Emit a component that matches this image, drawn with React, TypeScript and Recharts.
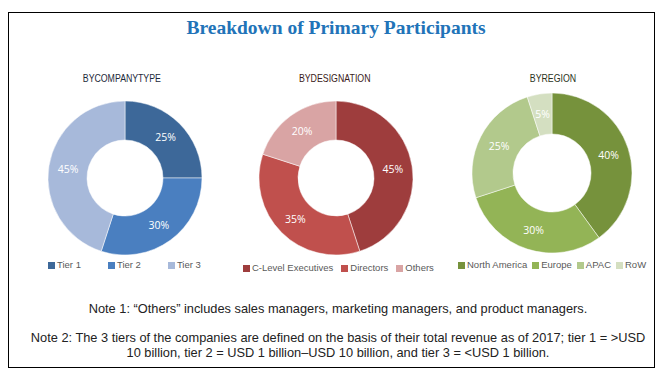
import React from 'react';
import { PieChart, Pie, Cell } from 'recharts';

const companyTypes = ['Tier 1', 'Tier 2', 'Tier 3'];
const companyShares = [25, 30, 45];
const companyColors = ['#3d6899', '#4a7fc0', '#a7b9da'];

const designations = ['C-Level Executives', 'Directors', 'Others'];
const designationShares = [45, 35, 20];
const designationColors = ['#9e3d3d', '#c0504d', '#d9a4a4'];

const regions = ['North America', 'Europe', 'APAC', 'RoW'];
const regionShares = [40, 30, 25, 5];
const regionColors = ['#76923c', '#93b456', '#b2c98c', '#d4dfc1'];

const subtitles = ['BY COMPANY TYPE', 'BY DESIGNATION', 'BY REGION'];
const subtitleColors = ['#1c2a3a', '#3b1a1a', '#2b331c'];

const titleText = 'Breakdown of Primary Participants';
const note1 = 'Note 1: \u201cOthers\u201d includes sales managers, marketing managers, and product managers.';
const note2a = 'Note 2: The 3 tiers of the companies are defined on the basis of their total revenue as of 2017; tier 1 = >USD';
const note2b = '10 billion, tier 2 = USD 1 billion\u2013USD 10 billion, and tier 3 = <USD 1 billion.';

const RAD = Math.PI / 180;

const build = (names: string[], values: number[]) =>
  names.map((name, i) => ({ name, value: values[i] }));

const renderLabel = (props: any) => {
  const { cx, cy, midAngle, innerRadius, outerRadius, value } = props;
  const r = (innerRadius + outerRadius) / 2;
  const x = cx + r * Math.cos(-midAngle * RAD);
  const y = cy + r * Math.sin(-midAngle * RAD);
  return (
    <text
      x={x}
      y={y}
      fill="#ffffff"
      textAnchor="middle"
      dominantBaseline="central"
      fontSize={10.5}
      fontFamily="'Open Sans', sans-serif"
    >
      {value}%
    </text>
  );
};

const LegendRow = ({ names, colors, left, top, gap }: { names: string[]; colors: string[]; left: number; top: number; gap: number }) => (
  <div
    style={{
      position: 'absolute',
      left,
      top,
      display: 'flex',
      alignItems: 'center',
      gap,
      fontFamily: "'Liberation Sans', Arial, sans-serif",
      fontSize: 9.5,
      color: '#595959',
      whiteSpace: 'nowrap',
      lineHeight: '12px',
    }}
  >
    {names.map((n, i) => (
      <div key={n} style={{ display: 'flex', alignItems: 'center' }}>
        <span style={{ display: 'inline-block', width: 7, height: 7, background: colors[i], marginRight: 2 }} />
        <span>{n}</span>
      </div>
    ))}
  </div>
);

const donuts = [
  { data: build(companyTypes, companyShares), colors: companyColors, cx: 120, cy: 173, ir: 38, or: 77 },
  { data: build(designations, designationShares), colors: designationColors, cx: 331, cy: 173, ir: 38, or: 77 },
  { data: build(regions, regionShares), colors: regionColors, cx: 547, cy: 168, ir: 39, or: 80 },
];

const subtitleX = [122, 335, 553];

export default function App() {
  return (
    <div style={{ position: 'absolute', left: 0, top: 0, width: 672, height: 387, background: '#fff', overflow: 'hidden' }}>
      <div
        style={{
          position: 'absolute',
          left: 8,
          top: 12,
          width: 647,
          height: 356,
          border: '1.5px solid #000',
          boxSizing: 'border-box',
        }}
      />
      <div
        style={{
          position: 'absolute',
          left: 0,
          width: 672,
          top: 16,
          textAlign: 'center',
          fontFamily: "'Liberation Serif', 'Times New Roman', serif",
          fontWeight: 'bold',
          fontSize: 19.5,
          color: '#2173b8',
          lineHeight: '24px',
        }}
      >
        {titleText}
      </div>
      {subtitles.map((s, i) => (
        <div
          key={s}
          style={{
            position: 'absolute',
            left: subtitleX[i] - 80,
            width: 160,
            top: 71,
            textAlign: 'center',
            lineHeight: '12px',
          }}
        >
          <span
            style={{
              display: 'inline-block',
              transform: 'scaleX(0.8)',
              fontFamily: "'Liberation Sans', Arial, sans-serif",
              fontSize: 11,
              wordSpacing: -3,
              color: subtitleColors[i],
            }}
          >
            {s}
          </span>
        </div>
      ))}
      <div style={{ position: 'absolute', left: 0, top: 0 }}>
        <PieChart width={672} height={300}>
          {donuts.map((d, k) => (
            <Pie
              key={k}
              data={d.data}
              dataKey="value"
              nameKey="name"
              cx={d.cx}
              cy={d.cy}
              innerRadius={d.ir}
              outerRadius={d.or}
              startAngle={90}
              endAngle={-270}
              stroke="#ffffff"
              strokeWidth={0.5}
              label={renderLabel}
              labelLine={false}
              isAnimationActive={false}
            >
              {d.data.map((_, i) => (
                <Cell key={i} fill={d.colors[i]} />
              ))}
            </Pie>
          ))}
        </PieChart>
      </div>
      <LegendRow names={companyTypes} colors={companyColors} left={48} top={259} gap={27} />
      <LegendRow names={designations} colors={designationColors} left={243} top={262} gap={8} />
      <LegendRow names={regions} colors={regionColors} left={458} top={259} gap={5} />
      <div
        style={{
          position: 'absolute',
          left: 0,
          width: 676,
          top: 301,
          textAlign: 'center',
          fontFamily: "'Liberation Sans', Arial, sans-serif",
          fontSize: 12.8,
          color: '#222',
          lineHeight: '15px',
          whiteSpace: 'nowrap',
        }}
      >
        {note1}
      </div>
      <div
        style={{
          position: 'absolute',
          left: 0,
          width: 676,
          top: 330,
          textAlign: 'center',
          fontFamily: "'Liberation Sans', Arial, sans-serif",
          fontSize: 12.8,
          color: '#222',
          lineHeight: '15px',
          whiteSpace: 'nowrap',
        }}
      >
        {note2a}
        <br />
        {note2b}
      </div>
    </div>
  );
}
